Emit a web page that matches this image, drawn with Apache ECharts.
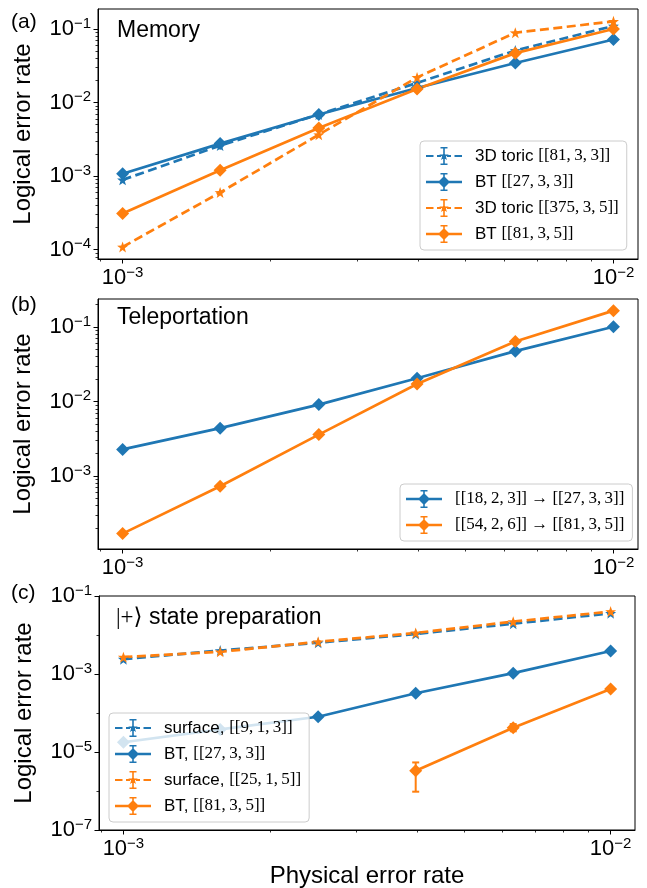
<!DOCTYPE html>
<html>
<head>
<meta charset="utf-8">
<script src="https://cdn.jsdelivr.net/npm/echarts@6/dist/echarts.min.js"></script>
<style>
  html, body { margin: 0; padding: 0; background: #fff; }
  #chart { width: 647px; height: 888px; }
</style>
</head>
<body>
<div id="chart"></div>
<script>
const BLUE = '#1f77b4';
const ORANGE = '#ff7f0e';
const SANS = '"Liberation Sans", Arial, Helvetica, sans-serif';
const SERIF = '"Liberation Serif", "DejaVu Serif", serif';

// physical error rate, shared by all three panels
const physErr = [0.001, 0.00158, 0.00251, 0.00398, 0.00631, 0.01];

// (a) memory
const memToric81 = [8.9e-4, 2.6e-3, 6.9e-3, 1.85e-2, 5.1e-2, 1.1e-1];
const memBt27 = [1.08e-3, 2.77e-3, 6.9e-3, 1.58e-2, 3.45e-2, 7.2e-2];
const memToric375 = [1.09e-4, 6.0e-4, 3.66e-3, 2.2e-2, 8.9e-2, 1.27e-1];
const memBt81 = [3.1e-4, 1.2e-3, 4.5e-3, 1.53e-2, 4.7e-2, 1.0e-1];

// (b) teleportation
const telBlue = [2.28e-3, 4.4e-3, 9.1e-3, 2.06e-2, 4.75e-2, 1.01e-1];
const telOrange = [1.69e-4, 7.3e-4, 3.6e-3, 1.72e-2, 6.4e-2, 1.66e-1];

// (c) |+> state preparation
const prepSurf9 = [2.4e-3, 4.0e-3, 6.35e-3, 1.06e-2, 1.95e-2, 3.6e-2];
const prepBt27 = [1.78e-5, 3.8e-5, 8.0e-5, 3.2e-4, 1.05e-3, 3.9e-3];
const prepSurf25 = [2.7e-3, 3.7e-3, 6.7e-3, 1.13e-2, 2.2e-2, 4.0e-2];
const prepBt81 = [null, null, null, 3.3e-6, 4.2e-5, 4.1e-4];
// error bars for BT [[81,3,5]] in (c)
const errX = [0.00398, 0.00631];
const errLo = [9.6e-7, 3.4e-5];
const errHi = [5.4e-6, 5.2e-5];

// series names (legend text)
const namesA = ['3D toric [[81, 3, 3]]', 'BT [[27, 3, 3]]', '3D toric [[375, 3, 5]]', 'BT [[81, 3, 5]]'];
const namesB = ['[[18, 2, 3]] → [[27, 3, 3]]', '[[54, 2, 6]] → [[81, 3, 5]]'];
const namesC = ['surface, [[9, 1, 3]]', 'BT, [[27, 3, 3]]', 'surface, [[25, 1, 5]]', 'BT, [[81, 3, 5]]'];

// axis ranges and ticks
const xRange = [8.91e-4, 1.122e-2];
const yRangeA = [7.48e-5, 0.187];
const yRangeB = [1.05e-4, 0.238];
const yRangeC = [1e-7, 1e-1];
const xMajor = [1e-3, 1e-2];
const yMajorA = [1e-4, 1e-3, 1e-2, 1e-1];
const yMajorB = [1e-3, 1e-2, 1e-1];
const yMajorC = [1e-7, 1e-5, 1e-3, 1e-1];
const yMinorC = [1e-6, 1e-4, 1e-2];

const lg = v => Math.log10(v);
const toPts = ys => physErr.map((x, i) => (ys[i] == null ? null : [lg(x), lg(ys[i])])).filter(Boolean);

// 2..9 x 10^k sub ticks inside a range
function subTicks(range) {
  const lo = lg(range[0]), hi = lg(range[1]);
  const out = [];
  for (let d = Math.floor(lo); d <= Math.ceil(hi); d++) {
    for (let m = 2; m <= 9; m++) {
      const v = d + Math.log10(m);
      if (v > lo && v < hi) out.push(v);
    }
  }
  return out;
}

const tickRich = {
  b: { fontFamily: SANS, fontSize: 22, color: '#000', lineHeight: 26 },
  s: { fontFamily: SANS, fontSize: 15, color: '#000', lineHeight: 16, verticalAlign: 'top' }
};
function expLabel(v) {
  const e = Math.round(v);
  return '{b|10}{s|' + (e < 0 ? '\u2212' : '') + Math.abs(e) + '}';
}

function mainAxis(dim, grid, range, major, extra) {
  return Object.assign({
    type: 'value', gridIndex: grid, position: dim === 'x' ? 'bottom' : 'left',
    min: lg(range[0]), max: lg(range[1]),
    axisLine: { show: true, onZero: false, lineStyle: { color: '#000', width: 1 } },
    axisTick: { show: true, customValues: major.map(lg), length: 4.5, lineStyle: { color: '#000', width: 1 } },
    axisLabel: { show: true, customValues: major.map(lg), formatter: expLabel, margin: dim === 'x' ? 6 : 7, rich: tickRich },
    splitLine: { show: false }
  }, extra || {});
}
function minorAxis(dim, grid, range, minor) {
  return {
    type: 'value', gridIndex: grid, position: dim === 'x' ? 'bottom' : 'left',
    min: lg(range[0]), max: lg(range[1]),
    axisLine: { show: false, onZero: false },
    axisTick: { show: true, customValues: minor, length: 2.5, lineStyle: { color: '#000', width: 0.8 } },
    axisLabel: { show: false },
    splitLine: { show: false }
  };
}

const yName = {
  name: 'Logical error rate', nameLocation: 'middle', nameGap: 63,
  nameTextStyle: { fontFamily: SANS, fontSize: 24, color: '#000' }
};

const STAR = 'path://M18,4L19.18,7.38L22.76,7.45L19.9,9.62L20.94,13.05L18,11L15.06,13.05L16.1,9.62L13.24,7.45L16.82,7.38Z';
const BAR = 'M17.2,0H18.8V18H17.2Z M14.5,0H21.5V1.5H14.5Z M14.5,16.5H21.5V18H14.5Z';
const ICON_SOLID = 'path://M0,7.8H36V10.2H0Z M18,3L24,9L18,15L12,9Z ' + BAR;
const ICON_DASH = 'path://M0,7.9H7.5V10.1H0Z M11,7.9H15V10.1H11Z M21,7.9H25V10.1H21Z M28.5,7.9H36V10.1H28.5Z ' +
  'M18,4L19.18,7.38L22.76,7.45L19.9,9.62L20.94,13.05L18,11L15.06,13.05L16.1,9.62L13.24,7.45L16.82,7.38Z ' + BAR;

function lineSeries(name, ys, axis, color, dashed) {
  return {
    type: 'line', name, xAxisIndex: axis, yAxisIndex: axis,
    data: toPts(ys),
    symbol: dashed ? STAR : 'diamond',
    symbolSize: dashed ? 11 : 13,
    itemStyle: { color, borderWidth: 0 },
    lineStyle: { color, width: 2.7, type: dashed ? [9, 4.5] : 'solid' },
    emphasis: { disabled: true },
    animation: false
  };
}

const legendRich = {
  s: { fontFamily: SANS, fontSize: 17, color: '#000', lineHeight: 18 },
  m: { fontFamily: SERIF, fontSize: 17, color: '#000', lineHeight: 18 }
};
function legendFmt(name) {
  const i = name.indexOf('[[');
  const pre = name.slice(0, i);
  const math = name.slice(i).replace(/, /g, ',\u2009');
  return (pre ? '{s|' + pre + '}' : '') + '{m|' + math + '}';
}
function legend(names, dashed, left, top) {
  return {
    orient: 'vertical', left, top,
    data: names.map((n, i) => ({ name: n, icon: dashed[i] ? ICON_DASH : ICON_SOLID })),
    itemWidth: 36, itemHeight: 18, itemGap: 8,
    padding: [6, 8, 7, 6],
    backgroundColor: 'rgba(255,255,255,0.8)', borderColor: '#cccccc', borderWidth: 1, borderRadius: 4,
    itemStyle: { borderWidth: 0 },
    textStyle: { padding: [0, 0, 0, 8], rich: legendRich },
    formatter: legendFmt,
    selectedMode: false
  };
}

const grids = [
  { left: 98, top: 9, width: 540, height: 250 },
  { left: 98, top: 299, width: 540, height: 250 },
  { left: 99, top: 596, width: 536, height: 234 }
].map(g => Object.assign(g, { show: true, borderColor: '#000', borderWidth: 1, containLabel: false, outerBoundsMode: 'none' }));

const xMinor = subTicks(xRange);
const xAxis = [
  mainAxis('x', 0, xRange, xMajor), minorAxis('x', 0, xRange, xMinor),
  mainAxis('x', 1, xRange, xMajor), minorAxis('x', 1, xRange, xMinor),
  mainAxis('x', 2, xRange, xMajor, {
    name: 'Physical error rate', nameLocation: 'middle', nameGap: 34,
    nameTextStyle: { fontFamily: SANS, fontSize: 24, color: '#000' }
  }), minorAxis('x', 2, xRange, xMinor)
];
const yAxis = [
  mainAxis('y', 0, yRangeA, yMajorA, yName), minorAxis('y', 0, yRangeA, subTicks(yRangeA)),
  mainAxis('y', 1, yRangeB, yMajorB, yName), minorAxis('y', 1, yRangeB, subTicks(yRangeB)),
  mainAxis('y', 2, yRangeC, yMajorC, yName), minorAxis('y', 2, yRangeC, yMinorC.map(lg))
];

const errSeries = {
  type: 'custom', name: 'err BT81', xAxisIndex: 4, yAxisIndex: 4, silent: true, animation: false,
  data: errX.map((x, i) => [lg(x), lg(errLo[i]), lg(errHi[i])]),
  encode: { x: 0, y: [1, 2] },
  renderItem: (params, api) => {
    const a = api.coord([api.value(0), api.value(1)]);
    const b = api.coord([api.value(0), api.value(2)]);
    const st = { stroke: ORANGE, lineWidth: 2 };
    const w = 3.5;
    return {
      type: 'group', children: [
        { type: 'line', shape: { x1: a[0], y1: a[1], x2: b[0], y2: b[1] }, style: st },
        { type: 'line', shape: { x1: a[0] - w, y1: a[1], x2: a[0] + w, y2: a[1] }, style: st },
        { type: 'line', shape: { x1: b[0] - w, y1: b[1], x2: b[0] + w, y2: b[1] }, style: st }
      ]
    };
  }
};

const series = [
  lineSeries(namesA[0], memToric81, 0, BLUE, true),
  lineSeries(namesA[1], memBt27, 0, BLUE, false),
  lineSeries(namesA[2], memToric375, 0, ORANGE, true),
  lineSeries(namesA[3], memBt81, 0, ORANGE, false),
  lineSeries(namesB[0], telBlue, 2, BLUE, false),
  lineSeries(namesB[1], telOrange, 2, ORANGE, false),
  lineSeries(namesC[0], prepSurf9, 4, BLUE, true),
  lineSeries(namesC[1], prepBt27, 4, BLUE, false),
  lineSeries(namesC[2], prepSurf25, 4, ORANGE, true),
  errSeries,
  lineSeries(namesC[3], prepBt81, 4, ORANGE, false)
];

function label(text, x, y, size) {
  return { type: 'text', x, y, silent: true, style: { text, fontFamily: SANS, fontSize: size, fill: '#000', verticalAlign: 'middle' } };
}

const chart = echarts.init(document.getElementById('chart'), null, { renderer: 'canvas' });
chart.setOption({
  animation: false,
  backgroundColor: '#fff',
  grid: grids,
  xAxis, yAxis, series,
  legend: [
    legend(namesA, [true, false, true, false], 420, 141),
    legend(namesB, [false, false], 400, 484),
    legend(namesC, [true, false, true, false], 109, 713)
  ],
  graphic: [
    label('(a)', 11, 22, 21),
    label('(b)', 11, 305, 21),
    label('(c)', 11, 593, 21),
    label('Memory', 117, 31, 23),
    label('Teleportation', 117, 318, 23),
    {
      type: 'text', x: 116, y: 618, silent: true,
      style: {
        text: '{k|\u007C+\u27E9}{t| state preparation}', verticalAlign: 'middle',
        rich: {
          k: { fontFamily: SERIF, fontSize: 23, fill: '#000' },
          t: { fontFamily: SANS, fontSize: 23, fill: '#000' }
        }
      }
    }
  ]
});
</script>
</body>
</html>
